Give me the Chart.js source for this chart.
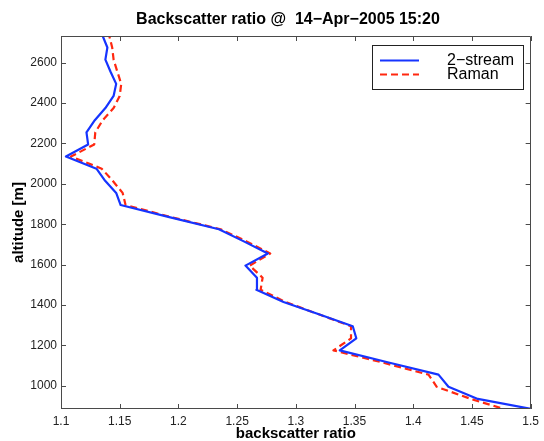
<!DOCTYPE html>
<html>
<head>
<meta charset="utf-8">
<script src="https://cdn.jsdelivr.net/npm/chart.js@4/dist/chart.umd.min.js"></script>
<style>
  html, body { margin: 0; padding: 0; background: #fff; }
  #c { display: block; }
</style>
</head>
<body>
<canvas id="c" width="544" height="441"></canvas>
<script>
// ---- data ----
const altitudes = [875, 935, 995, 1055, 1115, 1175, 1235, 1295, 1355, 1415, 1475, 1535, 1595, 1655, 1715, 1775,
                   1835, 1895, 1955, 2015, 2075, 2135, 2195, 2255, 2315, 2375, 2435, 2495, 2555, 2615, 2675, 2735];
const twoStream = [1.510, 1.455, 1.430, 1.4215, 1.379, 1.3374, 1.3515, 1.3485, 1.319, 1.2895, 1.2664, 1.2669, 1.2571, 1.2762, 1.2557, 1.2345,
                   1.1922, 1.1508, 1.147, 1.1376, 1.1302, 1.1042, 1.1231, 1.1217, 1.1288, 1.1378, 1.1448, 1.147, 1.1422, 1.1378, 1.1395, 1.1353];
const raman     = [1.483, 1.449, 1.420, 1.413, 1.374, 1.332, 1.347, 1.347, 1.319, 1.2912, 1.270, 1.2717, 1.2607, 1.2782, 1.258, 1.236,
                   1.194, 1.155, 1.1525, 1.144, 1.1347, 1.1085, 1.1283, 1.1292, 1.1355, 1.1448, 1.150, 1.1513, 1.148, 1.1448, 1.1436, 1.141];
const seriesLabels = ['2\u2212stream', 'Raman'];
const xTickValues = [1.1, 1.15, 1.2, 1.25, 1.3, 1.35, 1.4, 1.45, 1.5];
const yTickValues = [1000, 1200, 1400, 1600, 1800, 2000, 2200, 2400, 2600];
const titleText = 'Backscatter ratio @  14\u2212Apr\u22122005 15:20';
const xTitle = 'backscatter ratio';
const yTitle = 'altitude [m]';

const BLUE = 'rgb(22,52,255)';
const RED = 'rgb(255,40,16)';
const AXIS = '#4a4a4a';
const FONT = '"Liberation Sans", Arial, sans-serif';

function pts(xs) { return xs.map((v, i) => ({ x: v, y: altitudes[i] })); }

const frame = {
  id: 'frame',
  afterDatasetsDraw(chart) {
    const { ctx, chartArea: a, scales: { x, y } } = chart;
    ctx.save();
    ctx.strokeStyle = AXIS;
    ctx.lineWidth = 1;
    ctx.beginPath();
    ctx.rect(Math.round(a.left) + 0.5, Math.round(a.top) + 0.5, Math.round(a.right - a.left) - 1, Math.round(a.bottom - a.top) - 1);
    ctx.stroke();
    const L = 5;
    ctx.beginPath();
    x.ticks.forEach(t => {
      const px = Math.round(x.getPixelForValue(t.value)) + 0.5;
      ctx.moveTo(px, a.bottom); ctx.lineTo(px, a.bottom - L);
      ctx.moveTo(px, a.top); ctx.lineTo(px, a.top + L);
    });
    y.ticks.forEach(t => {
      const py = Math.round(y.getPixelForValue(t.value)) + 0.5;
      ctx.moveTo(a.left, py); ctx.lineTo(a.left + L, py);
      ctx.moveTo(a.right, py); ctx.lineTo(a.right - L, py);
    });
    ctx.stroke();
    // title
    ctx.fillStyle = '#000';
    ctx.font = 'bold 16px ' + FONT;
    ctx.textAlign = 'center';
    ctx.textBaseline = 'middle';
    ctx.fillText(titleText, 288, 20);
    // legend
    const bx = 372, by = 45, bw = 151, bh = 44;
    ctx.fillStyle = '#fff';
    ctx.fillRect(bx, by, bw, bh);
    ctx.strokeStyle = '#222';
    ctx.strokeRect(bx + 0.5, by + 0.5, bw, bh);
    chart.data.datasets.forEach((ds, i) => {
      const ly = 60.5 + i * 14;
      ctx.strokeStyle = ds.borderColor;
      ctx.lineWidth = ds.borderWidth;
      ctx.setLineDash(ds.borderDash || []);
      ctx.beginPath();
      ctx.moveTo(380, ly); ctx.lineTo(419, ly);
      ctx.stroke();
      ctx.setLineDash([]);
      ctx.fillStyle = '#000';
      ctx.font = '16px ' + FONT;
      ctx.textAlign = 'left';
      ctx.textBaseline = 'middle';
      ctx.fillText(ds.label, 447, ly + 0.5);
    });
    ctx.restore();
  }
};

new Chart(document.getElementById('c'), {
  type: 'scatter',
  data: {
    datasets: [
      { label: seriesLabels[0], data: pts(twoStream), showLine: true, borderColor: BLUE, backgroundColor: BLUE,
        borderWidth: 2.2, borderJoinStyle: 'round', pointRadius: 0, tension: 0 },
      { label: seriesLabels[1], data: pts(raman), showLine: true, borderColor: RED, backgroundColor: RED,
        borderWidth: 2.2, borderJoinStyle: 'round', borderDash: [7, 4], pointRadius: 0, tension: 0 }
    ]
  },
  options: {
    responsive: false,
    animation: false,
    events: [],
    layout: { padding: { left: 0, right: 10, top: 36, bottom: 0 } },
    plugins: { legend: { display: false }, tooltip: { enabled: false }, title: { display: false } },
    scales: {
      x: {
        type: 'linear', min: 1.1, max: 1.5,
        grid: { display: false, drawTicks: false },
        border: { display: false },
        afterBuildTicks: s => { s.ticks = xTickValues.map(v => ({ value: v })); },
        afterFit: s => { s.height = 32; },
        ticks: { padding: 5, color: '#222', font: { family: FONT, size: 12 },
                 maxRotation: 0, autoSkip: false,
                 callback: v => String(Math.round(v * 100) / 100) },
        title: { display: true, text: xTitle, color: '#000', padding: { top: 0, bottom: 0 },
                 font: { family: FONT, size: 15, weight: 'bold', lineHeight: 1 } }
      },
      y: {
        type: 'linear', min: 885, max: 2732,
        grid: { display: false, drawTicks: false },
        border: { display: false },
        afterBuildTicks: s => { s.ticks = yTickValues.map(v => ({ value: v })); },
        afterFit: s => { s.width = 61; },
        ticks: { padding: 4, color: '#222', font: { family: FONT, size: 12 },
                 autoSkip: false, callback: v => String(v) },
        title: { display: true, text: yTitle, color: '#000', padding: { top: 10, bottom: 0 },
                 font: { family: FONT, size: 15, weight: 'bold' } }
      }
    }
  },
  plugins: [frame]
});
</script>
</body>
</html>
